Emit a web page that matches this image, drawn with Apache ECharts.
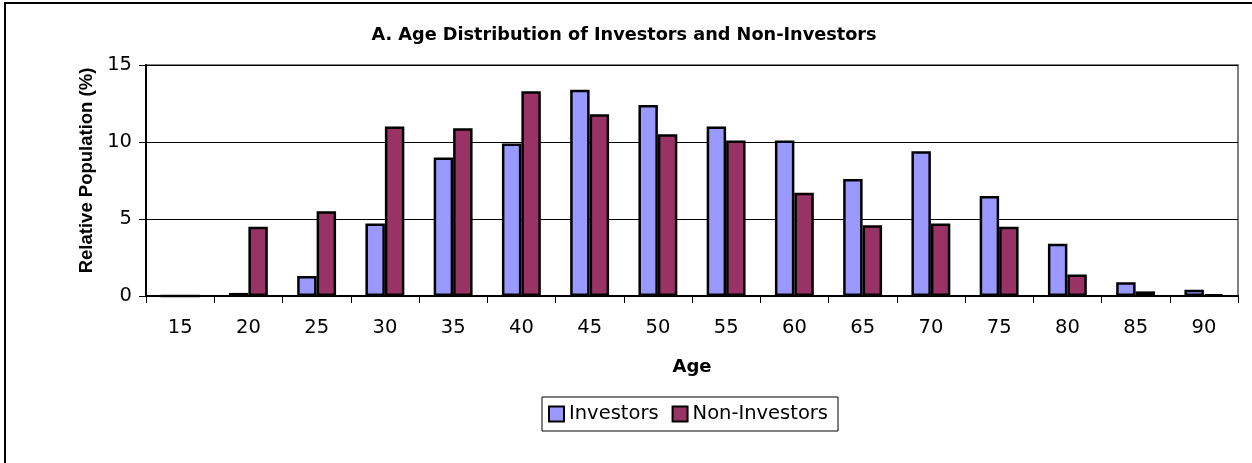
<!DOCTYPE html>
<html>
<head>
<meta charset="utf-8">
<script src="https://cdn.jsdelivr.net/npm/echarts@6/dist/echarts.min.js"></script>
<style>html,body{margin:0;padding:0;background:#fff}#c{width:1252px;height:463px}</style>
</head>
<body>
<div id="c"></div>
<script>
const ages = ['15','20','25','30','35','40','45','50','55','60','65','70','75','80','85','90'];
const investors = [0, 0.2, 1.3, 4.7, 9.0, 9.9, 13.4, 12.4, 11.0, 10.1, 7.6, 9.4, 6.5, 3.4, 0.9, 0.4];
const nonInvestors = [0, 4.5, 5.5, 11.0, 10.9, 13.3, 11.8, 10.5, 10.1, 6.7, 4.6, 4.7, 4.5, 1.4, 0.3, 0.1];
const yTicks = {min: 0, max: 15, interval: 5};

const chart = echarts.init(document.getElementById('c'), null, {renderer: 'canvas'});
const txt = 'DejaVu Sans';
chart.setOption({
  animation: false,
  backgroundColor: '#fff',
  title: {
    text: 'A. Age Distribution of Investors and Non-Investors',
    left: 619, top: 21, textAlign: 'center',
    textStyle: {fontFamily: txt, fontWeight: 'bold', fontSize: 17.7, color: '#000'}
  },
  graphic: [{
    type: 'rect', shape: {x: 5, y: 3, width: 1300, height: 520},
    style: {fill: 'none', stroke: '#000', lineWidth: 2}, silent: true
  }],
  legend: {
    left: 542, top: 397,
    padding: [7, 10, 7, 6],
    itemGap: 13, itemWidth: 15, itemHeight: 15,
    icon: 'rect',
    borderColor: '#000', borderWidth: 1,
    textStyle: {fontFamily: txt, fontSize: 19.5, color: '#000'}
  },
  grid: {
    left: 146, right: 14, top: 65, bottom: 167,
    show: true, borderColor: '#808080', borderWidth: 2, backgroundColor: '#fff'
  },
  xAxis: {
    type: 'category', data: ages,
    name: 'Age', nameLocation: 'middle', nameGap: 62,
    nameTextStyle: {fontFamily: txt, fontWeight: 'bold', fontSize: 18, color: '#000'},
    axisLine: {lineStyle: {color: '#000', width: 2}},
    axisTick: {show: true, length: 7, lineStyle: {color: '#000', width: 1}},
    axisLabel: {fontFamily: txt, fontSize: 19.5, color: '#000', margin: 22}
  },
  yAxis: {
    type: 'value', min: yTicks.min, max: yTicks.max, interval: yTicks.interval,
    name: 'Relative Population (%)', nameLocation: 'middle', nameGap: 37,
    nameTextStyle: {fontFamily: 'Liberation Sans', fontWeight: 'bold', fontSize: 18.5, color: '#000', padding: [0, 0, 0, 20]},
    axisLine: {show: true, lineStyle: {color: '#000', width: 2}},
    axisTick: {show: true, length: 7, lineStyle: {color: '#000', width: 1}},
    axisLabel: {fontFamily: txt, fontSize: 19.5, color: '#000', margin: 14},
    splitLine: {show: true, lineStyle: {color: '#000', width: 1}}
  },
  series: [
    {
      name: 'Investors', type: 'bar', data: investors,
      barGap: '0%', barCategoryGap: '43%',
      itemStyle: {color: '#9999FF', borderColor: '#000', borderWidth: 2.5}
    },
    {
      name: 'Non-Investors', type: 'bar', data: nonInvestors,
      barGap: '0%', barCategoryGap: '43%',
      itemStyle: {color: '#993366', borderColor: '#000', borderWidth: 2.5}
    }
  ]
});
</script>
</body>
</html>
